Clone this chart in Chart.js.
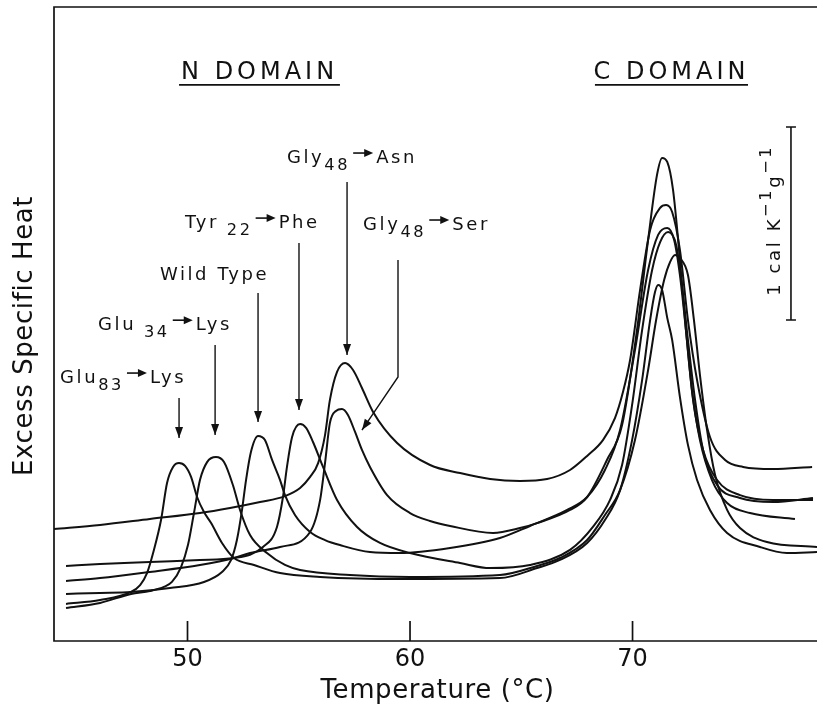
<!DOCTYPE html>
<html><head><meta charset="utf-8">
<script src="https://cdn.jsdelivr.net/npm/chart.js@4.4.1/dist/chart.umd.min.js"></script>
<style>html,body{margin:0;padding:0;background:#fff;}canvas{display:block;}</style>
</head><body>
<canvas id="c" width="817" height="704"></canvas>
<script>
// ---- data (temperature in °C, excess specific heat in cal K^-1 g^-1 above the plot floor) ----
const xTicks = [50, 60, 70];

const glu83T = [44.54,46.07,47.46,47.87,48.18,48.49,48.81,49.08,49.35,49.62,49.89,50.16,50.43,50.74,51.06,51.55,52.09,52.99,54.16,55.96,59.55,64.04,65.71,66.74,67.96,68.76,69.44,69.98,70.43,70.79,71.01,71.15,71.33,71.56,71.78,72.13,72.49,72.90,73.48,74.25,75.73,76.94,78.29];
const glu83V = [0.192,0.212,0.254,0.290,0.352,0.472,0.627,0.819,0.902,0.922,0.907,0.850,0.746,0.668,0.611,0.508,0.430,0.394,0.352,0.332,0.321,0.326,0.378,0.420,0.508,0.627,0.782,1.041,1.352,1.663,1.808,1.845,1.819,1.674,1.560,1.264,1.016,0.834,0.679,0.560,0.487,0.456,0.461];

const glu34T = [44.54,46.07,47.46,48.31,48.94,49.30,49.71,50.02,50.29,50.56,50.88,51.28,51.64,52.04,52.36,52.81,53.57,54.38,55.06,57.30,60.00,64.04,65.71,66.74,67.96,68.76,69.44,70.11,70.70,71.06,71.42,71.69,71.91,72.13,72.49,72.76,73.03,73.35,73.71,74.25,74.83,76.04,78.29];
const glu34V = [0.171,0.197,0.244,0.259,0.280,0.306,0.383,0.497,0.663,0.834,0.927,0.953,0.927,0.808,0.679,0.549,0.456,0.394,0.368,0.342,0.332,0.342,0.389,0.430,0.523,0.653,0.782,1.041,1.404,1.663,1.870,1.964,2.000,1.984,1.896,1.663,1.378,1.093,0.860,0.679,0.585,0.513,0.487];

const wildT = [44.54,46.07,47.46,49.21,50.74,51.55,51.96,52.22,52.45,52.63,52.85,53.17,53.48,53.80,54.16,54.38,54.83,55.51,56.18,56.85,58.20,59.55,61.80,64.04,65.39,67.06,67.96,68.76,69.44,70.11,70.70,71.15,71.56,71.87,72.13,72.40,72.67,73.03,73.57,74.25,75.28,77.30];
const wildV = [0.244,0.249,0.254,0.275,0.306,0.358,0.420,0.523,0.679,0.834,0.979,1.062,1.041,0.938,0.834,0.756,0.653,0.565,0.523,0.497,0.461,0.456,0.482,0.534,0.596,0.679,0.746,0.886,1.093,1.508,1.922,2.104,2.140,2.078,1.896,1.611,1.301,1.041,0.834,0.715,0.663,0.632];

const tyr22T = [44.54,46.07,48.31,50.56,52.09,53.39,54.02,54.29,54.47,54.70,55.06,55.33,55.64,56.09,56.72,57.62,58.65,60.00,62.25,63.60,65.39,67.19,68.22,68.99,69.53,69.98,70.43,70.88,71.24,71.60,71.96,72.22,72.49,72.81,73.17,73.80,74.83,76.31,78.11];
const tyr22V = [0.389,0.399,0.409,0.420,0.430,0.487,0.591,0.746,0.902,1.057,1.124,1.104,1.031,0.902,0.731,0.591,0.508,0.456,0.404,0.378,0.394,0.472,0.591,0.731,0.912,1.223,1.611,1.922,2.067,2.119,2.052,1.845,1.560,1.249,0.990,0.808,0.741,0.720,0.741];

const gly48SerT = [44.54,46.07,48.31,50.56,52.09,52.81,54.16,55.51,55.96,56.18,56.40,56.67,56.94,57.21,57.53,57.84,58.20,58.97,60.00,60.90,61.80,63.73,64.94,65.71,67.19,67.96,68.85,69.53,70.20,70.70,71.10,71.33,71.56,71.82,72.13,72.40,72.72,73.17,73.80,74.83,76.31,78.11];
const gly48SerV = [0.311,0.326,0.358,0.394,0.430,0.456,0.487,0.565,0.731,0.922,1.130,1.192,1.202,1.171,1.083,0.990,0.902,0.756,0.663,0.622,0.596,0.560,0.585,0.611,0.679,0.746,0.938,1.119,1.611,2.078,2.415,2.503,2.482,2.337,1.974,1.611,1.249,0.990,0.834,0.756,0.731,0.731];

const gly48AsnT = [44.00,46.07,48.31,50.56,51.91,53.26,54.38,55.06,55.51,55.87,56.18,56.40,56.72,57.08,57.44,57.84,58.34,59.42,60.90,62.25,63.60,64.94,66.16,67.19,67.96,68.67,69.21,69.57,69.89,70.34,70.79,71.24,71.51,71.78,72.13,72.49,72.90,73.48,74.16,74.97,76.31,78.07];
const gly48AsnV = [0.580,0.601,0.632,0.663,0.689,0.720,0.751,0.793,0.850,0.922,1.067,1.249,1.394,1.440,1.404,1.311,1.187,1.026,0.912,0.870,0.839,0.829,0.839,0.886,0.959,1.041,1.155,1.290,1.456,1.819,2.130,2.244,2.259,2.223,2.026,1.663,1.352,1.057,0.938,0.902,0.891,0.902];

const seriesNames = ['Glu83→Lys','Glu34→Lys','Wild Type','Tyr22→Phe','Gly48→Ser','Gly48→Asn'];
const seriesT = [glu83T, glu34T, wildT, tyr22T, gly48SerT, gly48AsnT];
const seriesV = [glu83V, glu34V, wildV, tyr22V, gly48SerV, gly48AsnV];

// scale bar: 1 cal K^-1 g^-1
const scaleBarLow = 1.663, scaleBarHigh = 2.663;

// ---- styling / layout ----
const FONT = '"DejaVu Sans", "Liberation Sans", sans-serif';
const INK = '#111';

function pts(T, V) { return T.map((t, i) => ({x: t, y: V[i]})); }

function setFont(ctx, size, spacing) {
  ctx.font = size + 'px ' + FONT;
  try { ctx.letterSpacing = (spacing || 0) + 'px'; } catch (e) {}
}

function richWidth(ctx, segs, size, spacing) {
  let w = 0;
  for (const s of segs) {
    if (s.arrow) { w += 26; continue; }
    setFont(ctx, (s.sub || s.sup) ? size * 0.9 : size, spacing);
    w += ctx.measureText(s.t).width;
  }
  return w;
}

function drawRich(ctx, segs, x, y, size, spacing) {
  let cx = x;
  for (const s of segs) {
    if (s.arrow) {
      const ay = y - size * 0.55;
      ctx.beginPath(); ctx.moveTo(cx + 3, ay); ctx.lineTo(cx + 17, ay); ctx.lineWidth = 1.6; ctx.stroke();
      ctx.beginPath(); ctx.moveTo(cx + 23, ay); ctx.lineTo(cx + 14, ay - 4); ctx.lineTo(cx + 14, ay + 4); ctx.closePath(); ctx.fill();
      cx += 26; continue;
    }
    const fs = (s.sub || s.sup) ? size * 0.9 : size;
    setFont(ctx, fs, spacing);
    const dy = s.sub ? size * 0.38 : (s.sup ? -size * 0.5 : 0);
    ctx.fillText(s.t, cx, y + dy);
    cx += ctx.measureText(s.t).width;
  }
  return cx;
}

function arrowHead(ctx, x0, y0, x1, y1, len, half) {
  const a = Math.atan2(y1 - y0, x1 - x0);
  ctx.beginPath();
  ctx.moveTo(x1, y1);
  ctx.lineTo(x1 - len * Math.cos(a) + half * Math.sin(a), y1 - len * Math.sin(a) - half * Math.cos(a));
  ctx.lineTo(x1 - len * Math.cos(a) - half * Math.sin(a), y1 - len * Math.sin(a) + half * Math.cos(a));
  ctx.closePath(); ctx.fill();
}

const annotations = {
  headings: [
    {text: 'N DOMAIN', cx: 53.15, y: 2.912, u0: 49.62, u1: 56.85, uy: 2.881},
    {text: 'C DOMAIN', cx: 71.66, y: 2.912, u0: 68.31, u1: 75.19, uy: 2.881}
  ],
  labels: [
    {segs: [{t: 'Gly'}, {t: '48', sub: 1}, {arrow: 1}, {t: 'Asn'}], x: 54.47, y: 2.477},
    {segs: [{t: 'Tyr'}, {t: ' 22', sub: 1}, {arrow: 1}, {t: 'Phe'}], x: 49.89, y: 2.140},
    {segs: [{t: 'Wild Type'}], x: 48.76, y: 1.870},
    {segs: [{t: 'Glu'}, {t: ' 34', sub: 1}, {arrow: 1}, {t: 'Lys'}], x: 45.98, y: 1.611},
    {segs: [{t: 'Glu'}, {t: '83', sub: 1}, {arrow: 1}, {t: 'Lys'}], x: 44.27, y: 1.337},
    {segs: [{t: 'Gly'}, {t: '48', sub: 1}, {arrow: 1}, {t: 'Ser'}], x: 57.89, y: 2.130}
  ],
  pointers: [
    [[57.17, 2.378], [57.17, 1.482]],
    [[55.01, 2.062], [55.01, 1.197]],
    [[53.17, 1.803], [53.17, 1.135]],
    [[51.24, 1.534], [51.24, 1.067]],
    [[49.62, 1.259], [49.62, 1.052]],
    [[59.46, 1.974], [59.46, 1.368], [57.84, 1.093]]
  ],
  scaleBar: {x: 77.12, labelX: 76.63, labelY: 2.18,
    segs: [{t: '1 cal K'}, {t: '−1', sup: 1}, {t: 'g'}, {t: '−1', sup: 1}]}
};

const decor = {
  id: 'decor',
  afterDraw(chart) {
    const ctx = chart.ctx, ca = chart.chartArea;
    const xs = chart.scales.x, ys = chart.scales.y;
    const X = v => xs.getPixelForValue(v), Y = v => ys.getPixelForValue(v);
    ctx.save();
    ctx.strokeStyle = INK; ctx.fillStyle = INK; ctx.lineCap = 'butt';
    // frame: left, top, bottom
    ctx.lineWidth = 1.7;
    ctx.beginPath();
    ctx.moveTo(ca.right, ca.top); ctx.lineTo(ca.left, ca.top); ctx.lineTo(ca.left, ca.bottom); ctx.lineTo(ca.right, ca.bottom);
    ctx.stroke();
    // inward tick marks
    for (const t of xTicks) {
      ctx.beginPath(); ctx.moveTo(X(t), ca.bottom); ctx.lineTo(X(t), ca.bottom - 20); ctx.stroke();
    }
    // axis titles
    ctx.textBaseline = 'alphabetic';
    setFont(ctx, 26, 0.6);
    ctx.textAlign = 'center';
    ctx.fillText('Temperature (°C)', (ca.left + ca.right) / 2 + 2, 698);
    ctx.save();
    ctx.translate(32, 336); ctx.rotate(-Math.PI / 2);
    setFont(ctx, 26, 0.6);
    ctx.fillText('Excess Specific Heat', 0, 0);
    ctx.restore();
    // headings
    for (const h of annotations.headings) {
      setFont(ctx, 24, 4);
      ctx.textAlign = 'center';
      ctx.fillText(h.text, X(h.cx) + 2, Y(h.y));
      ctx.lineWidth = 1.8;
      ctx.beginPath(); ctx.moveTo(X(h.u0), Y(h.uy)); ctx.lineTo(X(h.u1), Y(h.uy)); ctx.stroke();
    }
    // labels
    ctx.textAlign = 'left';
    for (const l of annotations.labels) drawRich(ctx, l.segs, X(l.x), Y(l.y), 18, 2.6);
    // pointer arrows
    ctx.lineWidth = 1.4;
    for (const p of annotations.pointers) {
      ctx.beginPath();
      p.forEach((q, i) => { const px = X(q[0]), py = Y(q[1]); if (i) ctx.lineTo(px, py); else ctx.moveTo(px, py); });
      ctx.stroke();
      const a = p[p.length - 2], b = p[p.length - 1];
      arrowHead(ctx, X(a[0]), Y(a[1]), X(b[0]), Y(b[1]), 11, 4);
    }
    // scale bar
    const sb = annotations.scaleBar;
    const bx = X(sb.x), y0 = Y(scaleBarLow), y1 = Y(scaleBarHigh);
    ctx.lineWidth = 1.6;
    ctx.beginPath();
    ctx.moveTo(bx, y0); ctx.lineTo(bx, y1);
    ctx.moveTo(bx - 5, y0); ctx.lineTo(bx + 5, y0);
    ctx.moveTo(bx - 5, y1); ctx.lineTo(bx + 5, y1);
    ctx.stroke();
    ctx.save();
    ctx.translate(X(sb.labelX), Y(sb.labelY)); ctx.rotate(-Math.PI / 2);
    const w = richWidth(ctx, sb.segs, 18, 2.6);
    drawRich(ctx, sb.segs, -w / 2, 0, 18, 2.6);
    ctx.restore();
    ctx.restore();
  }
};

new Chart(document.getElementById('c').getContext('2d'), {
  type: 'line',
  data: {
    datasets: seriesNames.map((n, i) => ({
      label: n, data: pts(seriesT[i], seriesV[i]),
      borderColor: INK, borderWidth: 2, pointRadius: 0, fill: false,
      cubicInterpolationMode: 'monotone'
    }))
  },
  options: {
    responsive: false, animation: false, devicePixelRatio: 1,
    layout: {padding: {left: 54, top: 7, right: 0, bottom: 0}},
    plugins: {legend: {display: false}, tooltip: {enabled: false}},
    scales: {
      x: {
        type: 'linear', min: 44, max: 78.29,
        grid: {display: false, drawTicks: false}, border: {display: false},
        afterBuildTicks: s => { s.ticks = xTicks.map(v => ({value: v})); },
        afterFit: s => { s.height = 63; },
        ticks: {color: INK, font: {family: FONT, size: 24}, padding: 4, maxRotation: 0, autoSkip: false}
      },
      y: {type: 'linear', min: 0, max: 3.285, display: false}
    }
  },
  plugins: [decor]
});
</script>
</body></html>
